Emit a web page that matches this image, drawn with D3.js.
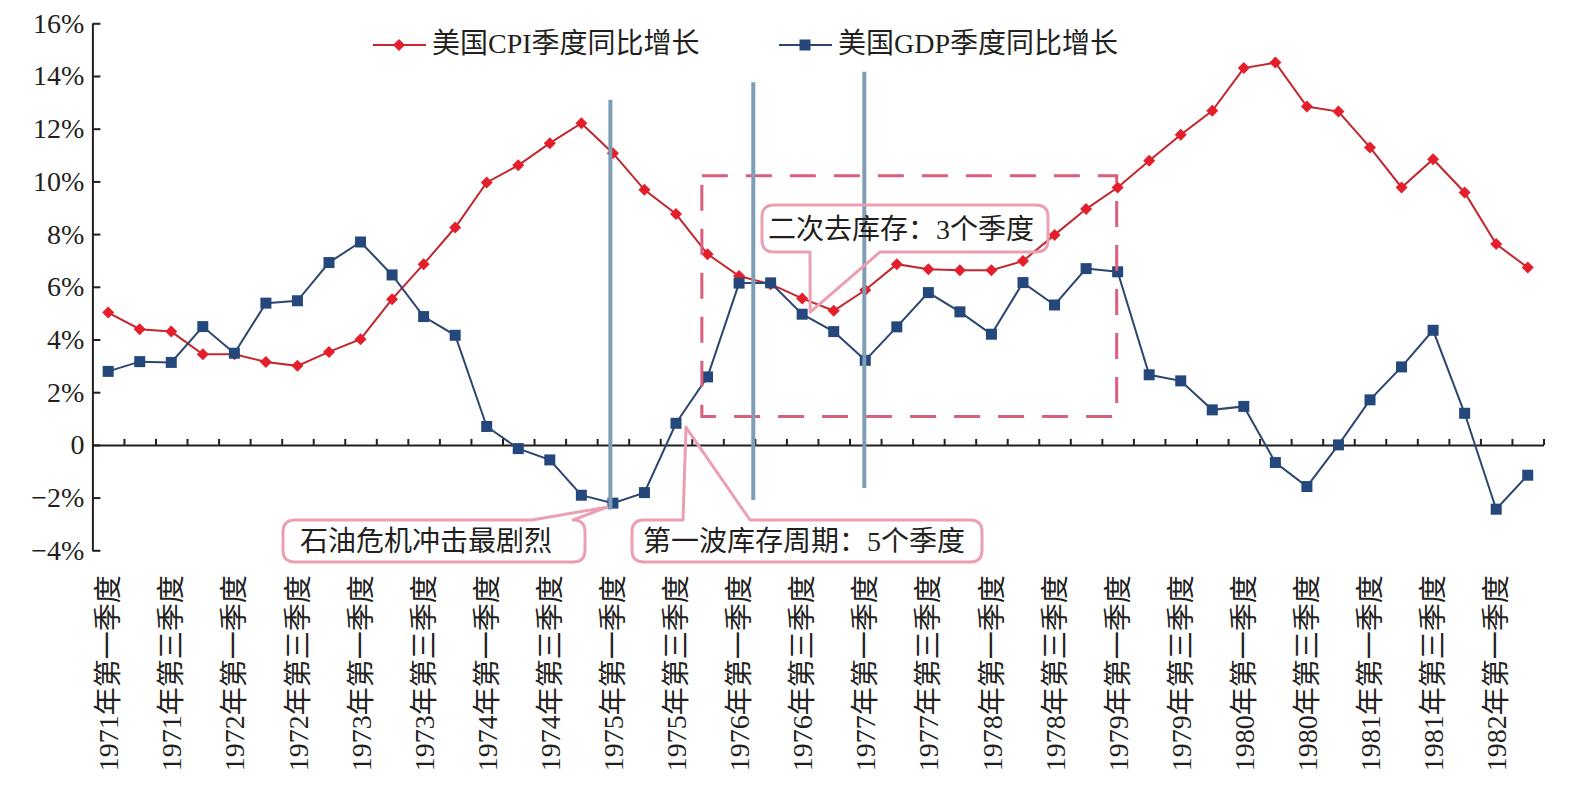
<!DOCTYPE html>
<html>
<head>
<meta charset="utf-8">
<script src="https://cdn.jsdelivr.net/npm/d3@7"></script>
<style>
  html, body { margin: 0; padding: 0; background: #fff; }
  #mainbox { width: 1586px; height: 792px; }
  text { font-family: "Liberation Serif", "Noto Sans CJK SC", serif; fill: #231f20; }
</style>
</head>
<body>
<div id="mainbox"></div>
<script>
// quarters 1971Q1 - 1982Q2
const quarters = [
  '1971年第一季度','1971年第二季度','1971年第三季度','1971年第四季度',
  '1972年第一季度','1972年第二季度','1972年第三季度','1972年第四季度',
  '1973年第一季度','1973年第二季度','1973年第三季度','1973年第四季度',
  '1974年第一季度','1974年第二季度','1974年第三季度','1974年第四季度',
  '1975年第一季度','1975年第二季度','1975年第三季度','1975年第四季度',
  '1976年第一季度','1976年第二季度','1976年第三季度','1976年第四季度',
  '1977年第一季度','1977年第二季度','1977年第三季度','1977年第四季度',
  '1978年第一季度','1978年第二季度','1978年第三季度','1978年第四季度',
  '1979年第一季度','1979年第二季度','1979年第三季度','1979年第四季度',
  '1980年第一季度','1980年第二季度','1980年第三季度','1980年第四季度',
  '1981年第一季度','1981年第二季度','1981年第三季度','1981年第四季度',
  '1982年第一季度','1982年第二季度'
];
// only every second quarter is labelled
const tickLabels = [
  '1971年第一季度','1971年第三季度','1972年第一季度','1972年第三季度',
  '1973年第一季度','1973年第三季度','1974年第一季度','1974年第三季度',
  '1975年第一季度','1975年第三季度','1976年第一季度','1976年第三季度',
  '1977年第一季度','1977年第三季度','1978年第一季度','1978年第三季度',
  '1979年第一季度','1979年第三季度','1980年第一季度','1980年第三季度',
  '1981年第一季度','1981年第三季度','1982年第一季度'
];

const cpi = [5.02, 4.39, 4.3, 3.44, 3.44, 3.15, 3.0, 3.53, 4.01, 5.53,
  6.86, 8.25, 9.96, 10.61, 11.45, 12.21, 11.07, 9.68, 8.76, 7.24,
  6.41, 6.1, 5.56, 5.09, 5.88, 6.86, 6.67, 6.63, 6.63, 6.98,
  7.97, 8.95, 9.77, 10.78, 11.77, 12.68, 14.3, 14.51, 12.84, 12.65,
  11.29, 9.77, 10.84, 9.58, 7.62, 6.73];
const gdp = [2.79, 3.16, 3.13, 4.49, 3.48, 5.38, 5.47, 6.92, 7.7, 6.45,
  4.87, 4.16, 0.7, -0.14, -0.57, -1.91, -2.21, -1.81, 0.82, 2.58,
  6.14, 6.15, 4.96, 4.3, 3.21, 4.48, 5.78, 5.05, 4.2, 6.16,
  5.31, 6.69, 6.57, 2.66, 2.43, 1.33, 1.46, -0.67, -1.58, 0.0,
  1.71, 2.96, 4.35, 1.2, -2.44, -1.15];

const yTicks = [-4, -2, 0, 2, 4, 6, 8, 10, 12, 14, 16];
const seriesNames = ['美国CPI季度同比增长', '美国GDP季度同比增长'];

// annotations (x in quarter units from axis start, y in %)
const vLines = [
  {q: 16.42, top: 13.1, bottom: -2.45},
  {q: 20.95, top: 13.76, bottom: -2.09},
  {q: 24.47, top: 14.16, bottom: -1.64}
];
const dashBox = {q0: 19.32, q1: 32.47, top: 10.21, bottom: 1.08};
const callouts = [
  {text: '石油危机冲击最剧烈', box: [283, 520, 302, 42], side: 'top', base: [532, 573], idx: 16, off: [-6, 4], tx: 300},
  {text: '第一波库存周期：5个季度', box: [632, 520, 350, 42], side: 'top', base: [683, 750], idx: 18, off: [10, 4], tx: 643},
  {text: '二次去库存：3个季度', box: [762, 205, 286, 47], side: 'bottom', base: [810, 880], idx: 22, off: [8, -2], tx: 768}
];

const W = 1586, H = 792;
const margin = {t: 23.3, r: 42.5, b: 241.7, l: 92.4};
const w = W - margin.l - margin.r,
      h = H - margin.t - margin.b;

const svg = d3.select('#mainbox')
  .append('svg')
  .attr('width', W)
  .attr('height', H);

const plot = svg.append('g')
  .attr('transform', `translate(${margin.l},${margin.t})`);

const scaleX = d3.scaleBand().domain(quarters).range([0, w]);
const scaleQ = d3.scaleLinear().domain([0, quarters.length]).range([0, w]);
const scaleY = d3.scaleLinear().domain([-4, 16]).range([h, 0]);
const cx = i => scaleX(quarters[i]) + scaleX.bandwidth() / 2;

// y axis
const axisY = d3.axisLeft(scaleY)
  .tickValues(yTicks)
  .tickSize(-8)
  .tickSizeOuter(0)
  .tickPadding(8)
  .tickFormat(d => d === 0 ? '0' : (d < 0 ? '\u2212' + (-d) : d) + '%');
const gy = plot.append('g').attr('class', 'axis axis-y').call(axisY);
gy.selectAll('path, line').attr('stroke', '#231f20').attr('stroke-width', 2);
gy.selectAll('text').attr('font-size', 28).attr('fill', '#231f20')
  .style('font-family', '"Liberation Serif", serif');

// x axis on the zero line, ticks at quarter boundaries
const axisX = d3.axisBottom(scaleQ)
  .tickValues(d3.range(1, quarters.length + 1))
  .tickSize(-6)
  .tickSizeOuter(0)
  .tickFormat('');
const gx = plot.append('g').attr('class', 'axis axis-x')
  .attr('transform', `translate(0,${scaleY(0)})`)
  .call(axisX);
gx.selectAll('path, line').attr('stroke', '#231f20').attr('stroke-width', 2);

// category labels at the bottom
plot.append('g').selectAll('text')
  .data(tickLabels)
  .join('text')
  .attr('transform', d => `translate(${cx(quarters.indexOf(d))},${h + 25}) rotate(-90)`)
  .attr('text-anchor', 'end')
  .attr('dy', '0.36em')
  .attr('font-size', 28)
  .text(d => d);

// series
const line = d3.line().x((d, i) => cx(i)).y(d => scaleY(d));
const diamond = 'M0,-6L6,0L0,6L-6,0Z';

plot.append('path').datum(cpi)
  .attr('d', line).attr('fill', 'none')
  .attr('stroke', '#c1272d').attr('stroke-width', 2);
plot.append('g').selectAll('path')
  .data(cpi).join('path')
  .attr('d', diamond)
  .attr('transform', (d, i) => `translate(${cx(i)},${scaleY(d)})`)
  .attr('fill', '#e41e2b');

plot.append('path').datum(gdp)
  .attr('d', line).attr('fill', 'none')
  .attr('stroke', '#2b4670').attr('stroke-width', 2);
plot.append('g').selectAll('rect')
  .data(gdp).join('rect')
  .attr('x', (d, i) => cx(i) - 5.5)
  .attr('y', d => scaleY(d) - 5.5)
  .attr('width', 11).attr('height', 11)
  .attr('fill', '#24477c');

// dashed box
plot.append('rect')
  .attr('x', scaleQ(dashBox.q0))
  .attr('y', scaleY(dashBox.top))
  .attr('width', scaleQ(dashBox.q1) - scaleQ(dashBox.q0))
  .attr('height', scaleY(dashBox.bottom) - scaleY(dashBox.top))
  .attr('fill', 'none')
  .attr('stroke', '#d8607c')
  .attr('stroke-width', 3)
  .attr('stroke-dasharray', '26 18');

// vertical markers
plot.append('g').selectAll('line')
  .data(vLines).join('line')
  .attr('x1', d => scaleQ(d.q)).attr('x2', d => scaleQ(d.q))
  .attr('y1', d => scaleY(d.top)).attr('y2', d => scaleY(d.bottom))
  .attr('stroke', '#7f9db3')
  .attr('stroke-width', 4);

// callouts (svg coordinates)
function bubblePath(c) {
  const [x, y, bw, bh] = c.box, r = 12;
  const tx = margin.l + cx(c.idx) + c.off[0];
  const ty = margin.t + scaleY(gdp[c.idx]) + c.off[1];
  const [b1, b2] = c.base;
  let p = `M${x + r},${y}`;
  if (c.side === 'top') p += `L${b1},${y}L${tx},${ty}L${b2},${y}`;
  p += `L${x + bw - r},${y}Q${x + bw},${y} ${x + bw},${y + r}`;
  p += `L${x + bw},${y + bh - r}Q${x + bw},${y + bh} ${x + bw - r},${y + bh}`;
  if (c.side === 'bottom') p += `L${b2},${y + bh}L${tx},${ty}L${b1},${y + bh}`;
  p += `L${x + r},${y + bh}Q${x},${y + bh} ${x},${y + bh - r}`;
  p += `L${x},${y + r}Q${x},${y} ${x + r},${y}Z`;
  return p;
}
const callG = svg.append('g').selectAll('g')
  .data(callouts).join('g');
callG.append('path')
  .attr('d', bubblePath)
  .attr('fill', 'none')
  .attr('stroke', '#eaa0b2')
  .attr('stroke-width', 3)
  .attr('stroke-linejoin', 'round');
callG.append('text')
  .attr('x', d => d.tx)
  .attr('y', d => d.box[1] + d.box[3] / 2)
  .attr('dy', '0.36em')
  .attr('font-size', 28)
  .text(d => d.text);

// legend
const legend = svg.append('g').attr('transform', 'translate(0,45)');
const leg = [
  {name: seriesNames[0], x: 373, color: '#c1272d', mark: '#e41e2b', type: 'diamond'},
  {name: seriesNames[1], x: 779, color: '#2b4670', mark: '#24477c', type: 'square'}
];
const li = legend.selectAll('g').data(leg).join('g')
  .attr('transform', d => `translate(${d.x},0)`);
li.append('line').attr('x1', 0).attr('x2', 53)
  .attr('stroke', d => d.color).attr('stroke-width', 2);
li.filter(d => d.type === 'diamond').append('path')
  .attr('d', diamond).attr('transform', 'translate(26,0)').attr('fill', d => d.mark);
li.filter(d => d.type === 'square').append('rect')
  .attr('x', 20.5).attr('y', -5.5).attr('width', 11).attr('height', 11).attr('fill', d => d.mark);
li.append('text')
  .attr('x', 59).attr('dy', '0.3em')
  .attr('font-size', 28)
  .text(d => d.name);
</script>
</body>
</html>
